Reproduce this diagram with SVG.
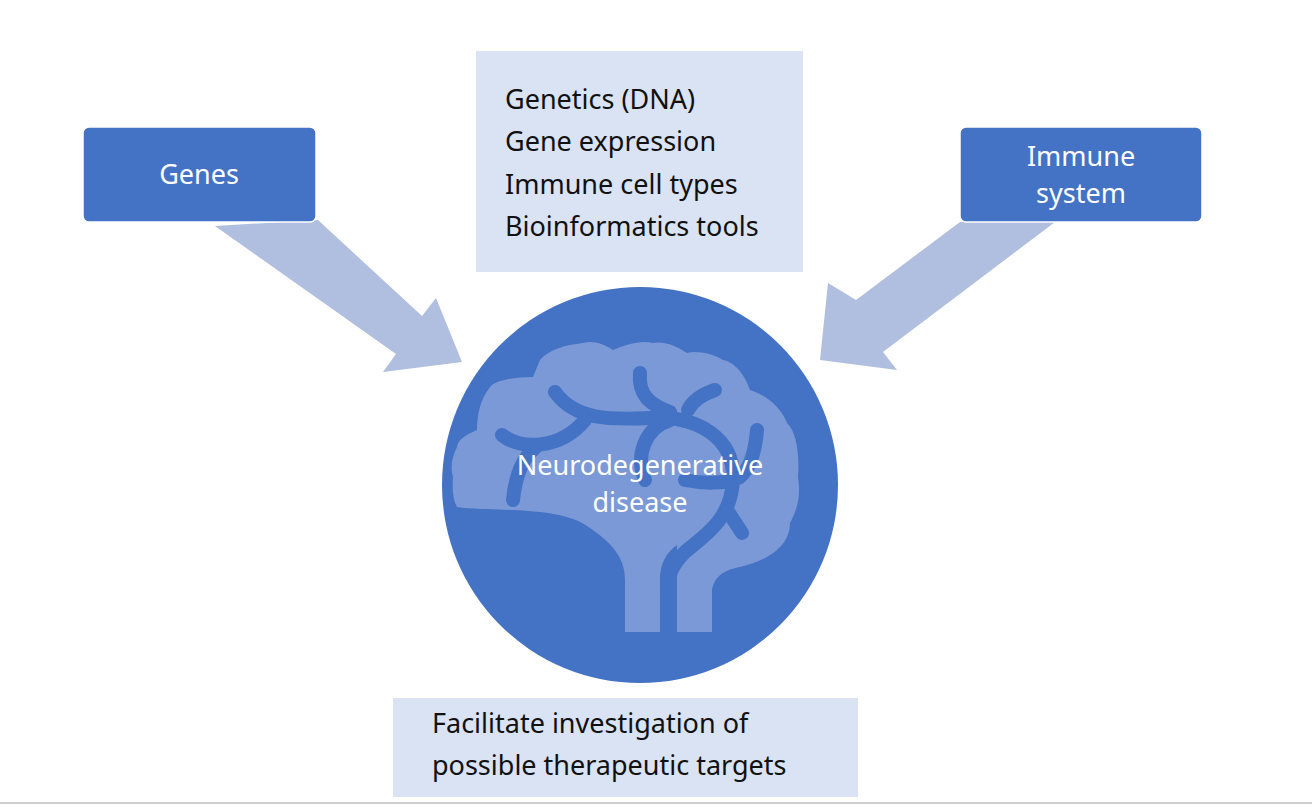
<svg xmlns="http://www.w3.org/2000/svg" width="1312" height="808" viewBox="0 0 1312 808">
<style>
.box{fill:#4472C4;stroke:#fff;stroke-width:1.5}
.lt{fill:#DAE3F3}
.arr{fill:#B0BEDF}
.w{fill:#fff;font-family:"Noto Sans","Liberation Sans",sans-serif;font-size:27px}
.k{fill:#111;font-family:"Noto Sans","Liberation Sans",sans-serif;font-size:27px}
.vein{fill:none;stroke:#4472C4;stroke-width:14;stroke-linecap:round}
</style>
<rect width="1312" height="808" fill="#fff"/>
<line x1="0" y1="803" x2="1312" y2="803" stroke="#d0d0d0" stroke-width="2"/>
<g id="connectors">
<polygon class="arr" points="215,226 318,220 422,316 436,298 462,362 383,372 396,354"/>
<polygon class="arr" points="1055,222 960,222 856,300 828,283 820,360 897,370 883,352"/>
</g>
<g id="genes"><rect class="box" x="83" y="127" width="233" height="95" rx="6"/><text class="w" x="199" y="184" text-anchor="middle">Genes</text></g>
<g id="immune"><rect class="box" x="960" y="127" width="242" height="95" rx="6"/><text class="w" x="1081" y="166" text-anchor="middle">Immune</text><text class="w" x="1081" y="203" text-anchor="middle">system</text></g>
<g id="topics"><rect class="lt" x="476" y="51" width="327" height="221"/>
<text class="k" x="505" y="109">Genetics (DNA)</text>
<text class="k" x="505" y="151">Gene expression</text>
<text class="k" x="505" y="194">Immune cell types</text>
<text class="k" x="505" y="236">Bioinformatics tools</text></g>
<g id="disease">
<circle cx="640" cy="485" r="198" fill="#4472C4"/>
<path fill="#7A99D6" d="M457,507 C490,512 560,505 590,528 C615,545 625,560 625,580 L625,632 L660,632 L660,580 C660,560 670,550 677,545 L677,632 L712,632 L712,590 C715,575 725,570 740,567 C770,560 790,545 790,523 C800,505 800,490 798,477 C800,450 795,430 787,423 C780,405 765,395 750,390 C745,375 735,362 723,360 C715,355 700,350 687,353 C675,345 663,341 653,343 C640,340 625,345 613,350 C605,345 595,340 583,343 C565,345 548,350 540,360 C537,367 535,372 533,377 C515,377 495,380 490,387 C480,400 477,415 477,430 C465,435 458,440 457,447 C452,457 450,467 453,477 C452,490 453,500 457,507 Z"/>
<path class="vein" d="M555,392 C575,420 610,420 650,418 C700,415 735,440 733,480 C731,520 705,535 685,552 C672,565 668,575 668,590 L668,640"/>
<path class="vein" d="M640,373 C638,395 650,405 670,412"/>
<path class="vein" d="M715,390 C700,395 692,402 688,410"/>
<path class="vein" d="M502,435 C520,450 560,450 585,420"/>
<path class="vein" d="M535,448 C520,460 515,480 513,500"/>
<path class="vein" d="M670,420 C645,428 635,455 645,480"/>
<path class="vein" d="M757,430 C755,455 748,470 740,477 C725,485 700,483 685,480"/>
<path class="vein" d="M727,510 L742,533"/>
<text class="w" x="640" y="475" text-anchor="middle">Neurodegenerative</text>
<text class="w" x="640" y="512" text-anchor="middle">disease</text>
</g>
<g id="outcome"><rect class="lt" x="393" y="698" width="465" height="99"/>
<text class="k" x="432" y="733">Facilitate investigation of</text>
<text class="k" x="432" y="775">possible therapeutic targets</text></g>
</svg>
